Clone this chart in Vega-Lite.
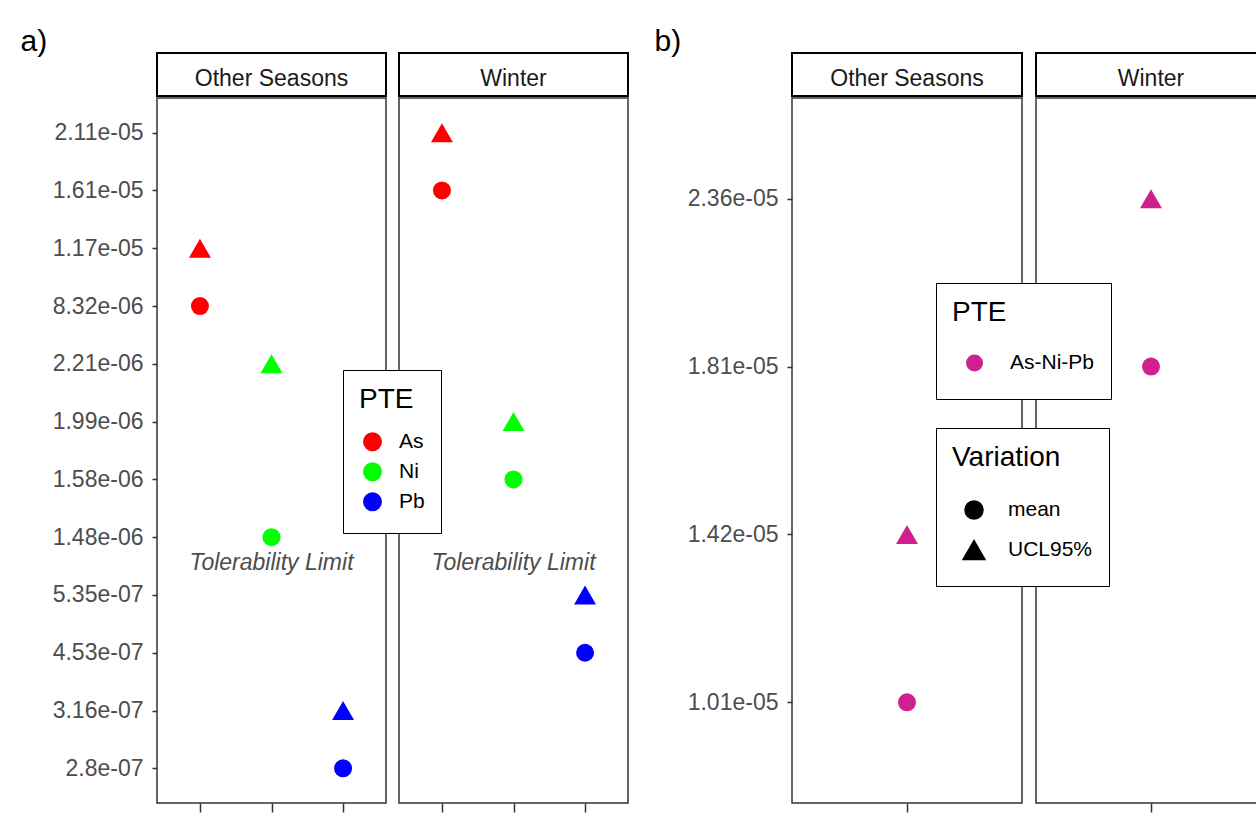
{
  "$schema": "https://vega.github.io/schema/vega-lite/v6.json",
  "background": "white",
  "padding": {"left": 20, "top": 27, "right": 0, "bottom": 0},
  "datasets": {
    "pa": [
      {"Season": "Other Seasons", "PTE": "As", "Variation": "mean", "val": "8.32e-06"},
      {"Season": "Other Seasons", "PTE": "As", "Variation": "UCL95%", "val": "1.17e-05"},
      {"Season": "Other Seasons", "PTE": "Ni", "Variation": "mean", "val": "1.48e-06"},
      {"Season": "Other Seasons", "PTE": "Ni", "Variation": "UCL95%", "val": "2.21e-06"},
      {"Season": "Other Seasons", "PTE": "Pb", "Variation": "mean", "val": "2.8e-07"},
      {"Season": "Other Seasons", "PTE": "Pb", "Variation": "UCL95%", "val": "3.16e-07"},
      {"Season": "Winter", "PTE": "As", "Variation": "mean", "val": "1.61e-05"},
      {"Season": "Winter", "PTE": "As", "Variation": "UCL95%", "val": "2.11e-05"},
      {"Season": "Winter", "PTE": "Ni", "Variation": "mean", "val": "1.58e-06"},
      {"Season": "Winter", "PTE": "Ni", "Variation": "UCL95%", "val": "1.99e-06"},
      {"Season": "Winter", "PTE": "Pb", "Variation": "mean", "val": "4.53e-07"},
      {"Season": "Winter", "PTE": "Pb", "Variation": "UCL95%", "val": "5.35e-07"}
    ],
    "pb": [
      {"Season": "Other Seasons", "PTE": "As-Ni-Pb", "Variation": "mean", "val": "1.01e-05"},
      {"Season": "Other Seasons", "PTE": "As-Ni-Pb", "Variation": "UCL95%", "val": "1.42e-05"},
      {"Season": "Winter", "PTE": "As-Ni-Pb", "Variation": "mean", "val": "1.81e-05"},
      {"Season": "Winter", "PTE": "As-Ni-Pb", "Variation": "UCL95%", "val": "2.36e-05"}
    ],
    "notes": [
      {"Season": "Other Seasons", "PTE": "Ni", "val": "1.48e-06", "note": "Tolerability Limit"},
      {"Season": "Winter", "PTE": "Ni", "val": "1.48e-06", "note": "Tolerability Limit"}
    ],
    "strips": [
      {"Season": "Other Seasons"},
      {"Season": "Winter"}
    ]
  },
  "hconcat": [
    {
      "title": {"text": "a)", "dx": -31},
      "spacing": 11,
      "hconcat": [
        {
          "spacing": 0,
          "vconcat": [
            {
              "width": 229, "height": 43,
              "data": {"name": "strips"},
              "transform": [{"filter": "datum.Season === 'Other Seasons'"}],
              "view": {"stroke": "black", "strokeWidth": 2},
              "mark": {"type": "text", "fontSize": 23, "color": "#1a1a1a", "dy": 4},
              "encoding": {"text": {"field": "Season"}}
            },
            {
              "width": 229, "height": 705,
              "layer": [
                {
                  "data": {"name": "pa"},
                  "transform": [{"filter": "datum.Season === 'Other Seasons'"}],
                  "mark": {"type": "point", "filled": true, "opacity": 1},
                  "encoding": {
                    "x": {"field": "PTE", "type": "nominal", "title": null, "scale": {"type": "point", "padding": 0.6, "domain": ["As", "Ni", "Pb"]}},
                    "y": {"field": "val", "type": "nominal", "title": null, "scale": {"type": "point", "padding": 0.6, "domain": ["2.11e-05", "1.61e-05", "1.17e-05", "8.32e-06", "2.21e-06", "1.99e-06", "1.58e-06", "1.48e-06", "5.35e-07", "4.53e-07", "3.16e-07", "2.8e-07"]}},
                    "color": {"field": "PTE", "type": "nominal", "scale": {"domain": ["As", "Ni", "Pb"], "range": ["#FF0000", "#00FF00", "#0000FF"]},
                      "legend": {"title": "PTE", "orient": "none", "legendX": 186, "legendY": 317, "padding": 16, "strokeColor": "black", "fillColor": "white", "titlePadding": 13, "symbolType": "circle", "symbolSize": 361, "symbolOffset": 3, "labelOffset": 16, "clipHeight": 29.5, "rowPadding": 0, "encode": {"legend": {"update": {"strokeWidth": {"value": 2}}}}}},
                    "shape": {"field": "Variation", "type": "nominal", "scale": {"domain": ["mean", "UCL95%"], "range": ["circle", "triangle-up"]}, "legend": null},
                    "size": {"field": "Variation", "type": "nominal", "scale": {"domain": ["mean", "UCL95%"], "range": [324, 480]}, "legend": null}
                  }
                },
                {
                  "data": {"name": "notes"},
                  "transform": [{"filter": "datum.Season === 'Other Seasons'"}],
                  "mark": {"type": "text", "fontStyle": "italic", "fontSize": 23, "color": "#4d4d4d", "baseline": "alphabetic", "dy": 33},
                  "encoding": {
                    "x": {"field": "PTE", "type": "nominal", "title": null, "scale": {"type": "point", "padding": 0.6, "domain": ["As", "Ni", "Pb"]}},
                    "y": {"field": "val", "type": "nominal", "title": null, "scale": {"type": "point", "padding": 0.6, "domain": ["2.11e-05", "1.61e-05", "1.17e-05", "8.32e-06", "2.21e-06", "1.99e-06", "1.58e-06", "1.48e-06", "5.35e-07", "4.53e-07", "3.16e-07", "2.8e-07"]}},
                    "text": {"field": "note"}
                  }
                }
              ]
            }
          ]
        },
        {
          "spacing": 0,
          "vconcat": [
            {
              "width": 229, "height": 43,
              "data": {"name": "strips"},
              "transform": [{"filter": "datum.Season === 'Winter'"}],
              "view": {"stroke": "black", "strokeWidth": 2},
              "mark": {"type": "text", "fontSize": 23, "color": "#1a1a1a", "dy": 4},
              "encoding": {"text": {"field": "Season"}}
            },
            {
              "width": 229, "height": 705,
              "layer": [
                {
                  "data": {"name": "pa"},
                  "transform": [{"filter": "datum.Season === 'Winter'"}],
                  "mark": {"type": "point", "filled": true, "opacity": 1},
                  "encoding": {
                    "x": {"field": "PTE", "type": "nominal", "title": null, "scale": {"type": "point", "padding": 0.6, "domain": ["As", "Ni", "Pb"]}},
                    "y": {"field": "val", "type": "nominal", "axis": null, "scale": {"type": "point", "padding": 0.6, "domain": ["2.11e-05", "1.61e-05", "1.17e-05", "8.32e-06", "2.21e-06", "1.99e-06", "1.58e-06", "1.48e-06", "5.35e-07", "4.53e-07", "3.16e-07", "2.8e-07"]}},
                    "color": {"field": "PTE", "type": "nominal", "scale": {"domain": ["As", "Ni", "Pb"], "range": ["#FF0000", "#00FF00", "#0000FF"]},
                      "legend": {"title": "PTE", "orient": "none", "legendX": 186, "legendY": 317, "padding": 16, "strokeColor": "black", "fillColor": "white", "titlePadding": 13, "symbolType": "circle", "symbolSize": 361, "symbolOffset": 3, "labelOffset": 16, "clipHeight": 29.5, "rowPadding": 0, "encode": {"legend": {"update": {"strokeWidth": {"value": 2}}}}}},
                    "shape": {"field": "Variation", "type": "nominal", "scale": {"domain": ["mean", "UCL95%"], "range": ["circle", "triangle-up"]}, "legend": null},
                    "size": {"field": "Variation", "type": "nominal", "scale": {"domain": ["mean", "UCL95%"], "range": [324, 480]}, "legend": null}
                  }
                },
                {
                  "data": {"name": "notes"},
                  "transform": [{"filter": "datum.Season === 'Winter'"}],
                  "mark": {"type": "text", "fontStyle": "italic", "fontSize": 23, "color": "#4d4d4d", "baseline": "alphabetic", "dy": 33},
                  "encoding": {
                    "x": {"field": "PTE", "type": "nominal", "title": null, "scale": {"type": "point", "padding": 0.6, "domain": ["As", "Ni", "Pb"]}},
                    "y": {"field": "val", "type": "nominal", "axis": null, "scale": {"type": "point", "padding": 0.6, "domain": ["2.11e-05", "1.61e-05", "1.17e-05", "8.32e-06", "2.21e-06", "1.99e-06", "1.58e-06", "1.48e-06", "5.35e-07", "4.53e-07", "3.16e-07", "2.8e-07"]}},
                    "text": {"field": "note"}
                  }
                }
              ]
            }
          ]
        }
      ]
    },
    {
      "title": {"text": "b)", "dx": -32},
      "spacing": 12,
      "hconcat": [
        {
          "spacing": 0,
          "vconcat": [
            {
              "width": 230, "height": 43,
              "data": {"name": "strips"},
              "transform": [{"filter": "datum.Season === 'Other Seasons'"}],
              "view": {"stroke": "black", "strokeWidth": 2},
              "mark": {"type": "text", "fontSize": 23, "color": "#1a1a1a", "dy": 4},
              "encoding": {"text": {"field": "Season"}}
            },
            {
              "width": 230, "height": 705,
              "data": {"name": "pb"},
              "transform": [{"filter": "datum.Season === 'Other Seasons'"}],
              "mark": {"type": "point", "filled": true, "opacity": 1},
              "encoding": {
                "x": {"field": "PTE", "type": "nominal", "title": null, "scale": {"type": "point", "padding": 0.6, "domain": ["As-Ni-Pb"]}},
                "y": {"field": "val", "type": "nominal", "title": null, "scale": {"type": "point", "padding": 0.6, "domain": ["2.36e-05", "1.81e-05", "1.42e-05", "1.01e-05"]}},
                "color": {"field": "PTE", "type": "nominal", "scale": {"domain": ["As-Ni-Pb"], "range": ["#D02090"]},
                  "legend": {"title": "PTE", "orient": "none", "legendX": 144, "legendY": 230, "padding": 16, "strokeColor": "black", "fillColor": "white", "titlePadding": 16, "symbolType": "circle", "symbolSize": 289, "symbolOffset": 12, "labelOffset": 25, "clipHeight": 40, "rowPadding": 0, "encode": {"legend": {"update": {"strokeWidth": {"value": 2}}}}}},
                "shape": {"field": "Variation", "type": "nominal", "scale": {"domain": ["mean", "UCL95%"], "range": ["circle", "triangle-up"]},
                  "legend": {"title": "Variation", "orient": "none", "legendX": 144, "legendY": 375, "padding": 16, "strokeColor": "black", "fillColor": "white", "titlePadding": 18, "symbolOffset": 10, "labelOffset": 22, "clipHeight": 40, "rowPadding": 0, "symbolFillColor": "black", "symbolStrokeColor": "black", "encode": {"legend": {"update": {"strokeWidth": {"value": 2}}}}}},
                "size": {"field": "Variation", "type": "nominal", "scale": {"domain": ["mean", "UCL95%"], "range": [324, 480]},
                  "legend": {"title": "Variation", "orient": "none", "legendX": 144, "legendY": 375, "padding": 16, "strokeColor": "black", "fillColor": "white", "titlePadding": 18, "symbolOffset": 10, "labelOffset": 22, "clipHeight": 40, "rowPadding": 0, "symbolFillColor": "black", "symbolStrokeColor": "black", "encode": {"legend": {"update": {"strokeWidth": {"value": 2}}}}}}
              }
            }
          ]
        },
        {
          "spacing": 0,
          "vconcat": [
            {
              "width": 230, "height": 43,
              "data": {"name": "strips"},
              "transform": [{"filter": "datum.Season === 'Winter'"}],
              "view": {"stroke": "black", "strokeWidth": 2},
              "mark": {"type": "text", "fontSize": 23, "color": "#1a1a1a", "dy": 4},
              "encoding": {"text": {"field": "Season"}}
            },
            {
              "width": 230, "height": 705,
              "data": {"name": "pb"},
              "transform": [{"filter": "datum.Season === 'Winter'"}],
              "mark": {"type": "point", "filled": true, "opacity": 1},
              "encoding": {
                "x": {"field": "PTE", "type": "nominal", "title": null, "scale": {"type": "point", "padding": 0.6, "domain": ["As-Ni-Pb"]}},
                "y": {"field": "val", "type": "nominal", "axis": null, "scale": {"type": "point", "padding": 0.6, "domain": ["2.36e-05", "1.81e-05", "1.42e-05", "1.01e-05"]}},
                "color": {"field": "PTE", "type": "nominal", "scale": {"domain": ["As-Ni-Pb"], "range": ["#D02090"]},
                  "legend": {"title": "PTE", "orient": "none", "legendX": 144, "legendY": 230, "padding": 16, "strokeColor": "black", "fillColor": "white", "titlePadding": 16, "symbolType": "circle", "symbolSize": 289, "symbolOffset": 12, "labelOffset": 25, "clipHeight": 40, "rowPadding": 0, "encode": {"legend": {"update": {"strokeWidth": {"value": 2}}}}}},
                "shape": {"field": "Variation", "type": "nominal", "scale": {"domain": ["mean", "UCL95%"], "range": ["circle", "triangle-up"]},
                  "legend": {"title": "Variation", "orient": "none", "legendX": 144, "legendY": 375, "padding": 16, "strokeColor": "black", "fillColor": "white", "titlePadding": 18, "symbolOffset": 10, "labelOffset": 22, "clipHeight": 40, "rowPadding": 0, "symbolFillColor": "black", "symbolStrokeColor": "black", "encode": {"legend": {"update": {"strokeWidth": {"value": 2}}}}}},
                "size": {"field": "Variation", "type": "nominal", "scale": {"domain": ["mean", "UCL95%"], "range": [324, 480]},
                  "legend": {"title": "Variation", "orient": "none", "legendX": 144, "legendY": 375, "padding": 16, "strokeColor": "black", "fillColor": "white", "titlePadding": 18, "symbolOffset": 10, "labelOffset": 22, "clipHeight": 40, "rowPadding": 0, "symbolFillColor": "black", "symbolStrokeColor": "black", "encode": {"legend": {"update": {"strokeWidth": {"value": 2}}}}}}
              }
            }
          ]
        }
      ]
    }
  ],
  "spacing": 25,
  "resolve": {
    "scale": {"color": "independent", "shape": "independent", "size": "independent"},
    "legend": {"color": "independent", "shape": "independent", "size": "independent"}
  },
  "config": {
    "font": "Liberation Sans",
    "view": {"stroke": "#333333", "strokeWidth": 1.5},
    "axis": {"grid": false, "domain": false, "tickColor": "#333333", "tickWidth": 1.5, "labelFont": "Liberation Sans", "labelFontSize": 23, "labelColor": "#4d4d4d"},
    "axisY": {"tickSize": 5, "labelPadding": 9},
    "axisX": {"tickSize": 9, "labels": false},
    "legend": {"titleFont": "Liberation Sans", "titleFontSize": 28, "titleFontWeight": "normal", "titleColor": "black", "labelFont": "Liberation Sans", "labelFontSize": 21, "labelColor": "black"},
    "title": {"font": "Liberation Sans", "fontSize": 30, "fontWeight": "normal", "color": "black", "anchor": "start", "frame": "bounds", "offset": -5}
  }
}
